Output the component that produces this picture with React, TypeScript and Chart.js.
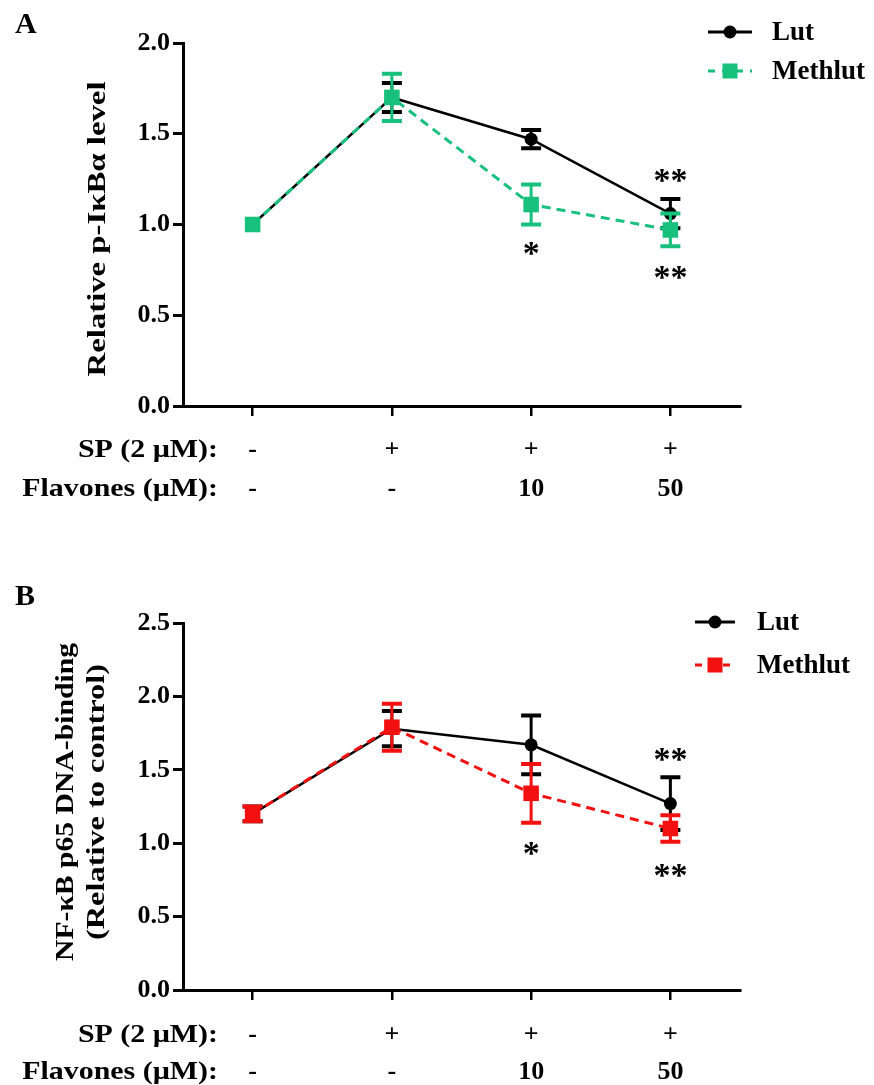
import React, { useEffect, useRef } from 'react';
import { Chart, registerables } from 'chart.js';

Chart.register(...registerables);

const FONT = '"Liberation Serif", "Times New Roman", Times, serif';

// ---------- data ----------
const categories = [['-', '-'], ['+', '-'], ['+', '10'], ['+', '50']];
const rowHeaders = ['SP (2 µM):', 'Flavones (µM):'];
const seriesNames = ['Lut', 'Methlut'];

const yTicksA = [0, 0.5, 1.0, 1.5, 2.0];
const yTickLabelsA = ['0.0', '0.5', '1.0', '1.5', '2.0'];
const lutA = [1.0, 1.7, 1.47, 1.06];
const lutAErr = [0, 0.08, 0.05, 0.08];
const methlutA = [1.0, 1.7, 1.11, 0.97];
const methlutAErr = [0, 0.13, 0.11, 0.09];
const starsAIndex = [2, 3, 3];
const starsAValue = [0.87, 1.27, 0.74];
const starsAText = ['*', '**', '**'];

const yTicksB = [0, 0.5, 1.0, 1.5, 2.0, 2.5];
const yTickLabelsB = ['0.0', '0.5', '1.0', '1.5', '2.0', '2.5'];
const lutB = [1.2, 1.78, 1.67, 1.27];
const lutBErr = [0.05, 0.12, 0.2, 0.18];
const methlutB = [1.2, 1.79, 1.34, 1.1];
const methlutBErr = [0.05, 0.16, 0.2, 0.09];
const starsBIndex = [2, 3, 3];
const starsBValue = [0.97, 1.61, 0.82];
const starsBText = ['*', '**', '**'];

const GREEN = '#17c07c';
const RED = '#f21010';

type PanelCfg = {
  top: number;
  height: number;
  areaTop: number;
  areaBottom: number;
  xPad: number;
  lineH: number;
  yMax: number;
  yTicks: number[];
  yLabels: string[];
  lut: number[];
  lutErr: number[];
  meth: number[];
  methErr: number[];
  methColor: string;
  starsIdx: number[];
  starsVal: number[];
  starsTxt: string[];
  letter: string;
  letterY: number;
  titles: { text: string; x: number; len: number }[];
  titleCY: number;
  legend: { x0: number; x1: number; mx: number; tx: number; y: number[] };
};

const TICK_LEN = 10;
const AREA_LEFT = 183;
const AREA_RIGHT = 740;

function stretchText(ctx: CanvasRenderingContext2D, text: string, x: number, y: number, sx: number, align: CanvasTextAlign) {
  ctx.save();
  ctx.translate(x, y);
  ctx.scale(sx, 1);
  ctx.textAlign = align;
  ctx.fillText(text, 0, 0);
  ctx.restore();
}

function makePlugin(cfg: PanelCfg) {
  const errs = [cfg.methErr, cfg.lutErr];
  return {
    id: 'panelExtras',
    afterDatasetDraw(chart: any, args: any) {
      const ctx: CanvasRenderingContext2D = chart.ctx;
      const ds = chart.data.datasets[args.index];
      const err = errs[args.index];
      const ys = chart.scales.y;
      ctx.save();
      ctx.strokeStyle = ds.borderColor;
      ctx.setLineDash([]);
      args.meta.data.forEach((pt: any, i: number) => {
        const e = err[i];
        if (!e) return;
        const v = ds.data[i];
        const yt = ys.getPixelForValue(v + e);
        const yb = ys.getPixelForValue(v - e);
        ctx.lineWidth = 3;
        ctx.beginPath();
        ctx.moveTo(pt.x, yt);
        ctx.lineTo(pt.x, yb);
        ctx.stroke();
        ctx.lineWidth = 4;
        ctx.beginPath();
        ctx.moveTo(pt.x - 10, yt);
        ctx.lineTo(pt.x + 10, yt);
        ctx.moveTo(pt.x - 10, yb);
        ctx.lineTo(pt.x + 10, yb);
        ctx.stroke();
      });
      ctx.restore();
    },
    afterDraw(chart: any) {
      const ctx: CanvasRenderingContext2D = chart.ctx;
      const xs = chart.scales.x;
      const ys = chart.scales.y;
      ctx.save();
      ctx.fillStyle = '#000';

      // stars
      ctx.font = `bold 34px ${FONT}`;
      ctx.textAlign = 'center';
      ctx.textBaseline = 'alphabetic';
      cfg.starsIdx.forEach((ci, k) => {
        const x = xs.getPixelForValue(ci);
        const y = ys.getPixelForValue(cfg.starsVal[k]);
        ctx.fillText(cfg.starsTxt[k], x, y + 16);
      });

      // row headers
      ctx.font = `bold 26px ${FONT}`;
      ctx.textBaseline = 'middle';
      rowHeaders.forEach((t, i) => {
        const y = xs.top + TICK_LEN + cfg.xPad + cfg.lineH / 2 + i * cfg.lineH;
        stretchText(ctx, t, 218, y, 1.15, 'right');
      });

      // panel letter
      ctx.font = `bold 30px ${FONT}`;
      ctx.textAlign = 'left';
      ctx.textBaseline = 'alphabetic';
      ctx.fillText(cfg.letter, 15, cfg.letterY);

      // y title(s)
      ctx.font = `bold 26px ${FONT}`;
      cfg.titles.forEach((tt) => {
        const w = ctx.measureText(tt.text).width;
        ctx.save();
        ctx.translate(tt.x, cfg.titleCY);
        ctx.rotate(-Math.PI / 2);
        ctx.scale(tt.len / w, 1);
        ctx.textAlign = 'center';
        ctx.textBaseline = 'alphabetic';
        ctx.fillText(tt.text, 0, 0);
        ctx.restore();
      });

      // legend
      const L = cfg.legend;
      ctx.strokeStyle = '#000';
      ctx.lineWidth = 3;
      ctx.setLineDash([]);
      ctx.beginPath();
      ctx.moveTo(L.x0, L.y[0]);
      ctx.lineTo(L.x1, L.y[0]);
      ctx.stroke();
      ctx.beginPath();
      ctx.arc(L.mx, L.y[0], 6.5, 0, Math.PI * 2);
      ctx.fill();
      ctx.strokeStyle = cfg.methColor;
      ctx.setLineDash([7, 7]);
      ctx.beginPath();
      ctx.moveTo(L.x0, L.y[1]);
      ctx.lineTo(L.x1, L.y[1]);
      ctx.stroke();
      ctx.setLineDash([]);
      ctx.fillStyle = cfg.methColor;
      ctx.fillRect(L.mx - 7.5, L.y[1] - 7.5, 15, 15);
      ctx.fillStyle = '#000';
      ctx.font = `bold 27px ${FONT}`;
      ctx.textAlign = 'left';
      ctx.textBaseline = 'middle';
      ctx.fillText(seriesNames[0], L.tx, L.y[0] + 1);
      ctx.fillText(seriesNames[1], L.tx, L.y[1] + 1);
      ctx.restore();
    },
  };
}

function Panel({ cfg }: { cfg: PanelCfg }) {
  const ref = useRef<HTMLCanvasElement>(null);
  useEffect(() => {
    if (!ref.current) return;
    const tickFont = { family: FONT, size: 26, weight: 'bold' as const };
    const chart = new Chart(ref.current, {
      type: 'line',
      data: {
        labels: categories,
        datasets: [
          {
            label: seriesNames[1],
            data: cfg.meth,
            borderColor: cfg.methColor,
            backgroundColor: cfg.methColor,
            borderWidth: 3,
            borderDash: [9, 6],
            pointStyle: 'rect',
            pointRadius: 11,
            pointBackgroundColor: cfg.methColor,
            pointBorderWidth: 0,
            tension: 0,
            order: 0,
          },
          {
            label: seriesNames[0],
            data: cfg.lut,
            borderColor: '#000',
            backgroundColor: '#000',
            borderWidth: 2.5,
            pointStyle: 'circle',
            pointRadius: 6.5,
            pointBackgroundColor: '#000',
            pointBorderWidth: 0,
            tension: 0,
            order: 1,
          },
        ],
      },
      options: {
        animation: false,
        responsive: false,
        devicePixelRatio: 1,
        layout: { padding: { left: 0, right: 874 - AREA_RIGHT, top: cfg.areaTop, bottom: 0 } },
        plugins: { legend: { display: false }, tooltip: { enabled: false } },
        scales: {
          x: {
            type: 'category',
            offset: true,
            grid: { drawOnChartArea: false, drawTicks: true, tickLength: TICK_LEN, color: '#000', lineWidth: 2.5 },
            border: { display: true, color: '#000', width: 3 },
            ticks: {
              color: '#000',
              font: { ...tickFont, lineHeight: cfg.lineH / 26 },
              padding: cfg.xPad,
              maxRotation: 0,
              minRotation: 0,
              autoSkip: false,
            },
            afterFit: (s: any) => {
              s.height = cfg.height - cfg.areaBottom;
            },
          },
          y: {
            min: 0,
            max: cfg.yMax,
            afterBuildTicks: (s: any) => {
              s.ticks = cfg.yTicks.map((v) => ({ value: v }));
            },
            grid: { drawOnChartArea: false, drawTicks: true, tickLength: TICK_LEN, color: '#000', lineWidth: 3 },
            border: { display: true, color: '#000', width: 3 },
            ticks: {
              color: '#000',
              font: tickFont,
              padding: 3,
              callback: (_v: any, i: number) => cfg.yLabels[i],
            },
            afterFit: (s: any) => {
              s.width = AREA_LEFT;
            },
          },
        },
      },
      plugins: [makePlugin(cfg)],
    } as any);
    return () => chart.destroy();
  }, []);
  return (
    <canvas
      ref={ref}
      width={874}
      height={cfg.height}
      style={{ position: 'absolute', left: 0, top: cfg.top, width: 874, height: cfg.height }}
    />
  );
}

const cfgA: PanelCfg = {
  top: 0,
  height: 540,
  areaTop: 43,
  areaBottom: 406,
  xPad: 14.5,
  lineH: 39,
  yMax: 2,
  yTicks: yTicksA,
  yLabels: yTickLabelsA,
  lut: lutA,
  lutErr: lutAErr,
  meth: methlutA,
  methErr: methlutAErr,
  methColor: GREEN,
  starsIdx: starsAIndex,
  starsVal: starsAValue,
  starsTxt: starsAText,
  letter: 'A',
  letterY: 33,
  titles: [{ text: 'Relative p-IκBα level', x: 105, len: 295 }],
  titleCY: 229,
  legend: { x0: 708, x1: 752, mx: 730, tx: 772, y: [32, 71] },
};

const cfgB: PanelCfg = {
  top: 540,
  height: 545,
  areaTop: 83,
  areaBottom: 450,
  xPad: 16.5,
  lineH: 37,
  yMax: 2.5,
  yTicks: yTicksB,
  yLabels: yTickLabelsB,
  lut: lutB,
  lutErr: lutBErr,
  meth: methlutB,
  methErr: methlutBErr,
  methColor: RED,
  starsIdx: starsBIndex,
  starsVal: starsBValue,
  starsTxt: starsBText,
  letter: 'B',
  letterY: 65,
  titles: [
    { text: 'NF-κB p65 DNA-binding', x: 73, len: 318 },
    { text: '(Relative to control)', x: 104, len: 276 },
  ],
  titleCY: 262,
  legend: { x0: 695, x1: 735, mx: 715, tx: 757, y: [82, 125] },
};

export default function App() {
  return (
    <div style={{ position: 'absolute', left: 0, top: 0, width: 874, height: 1085, background: '#fff', overflow: 'hidden' }}>
      <Panel cfg={cfgA} />
      <Panel cfg={cfgB} />
    </div>
  );
}
